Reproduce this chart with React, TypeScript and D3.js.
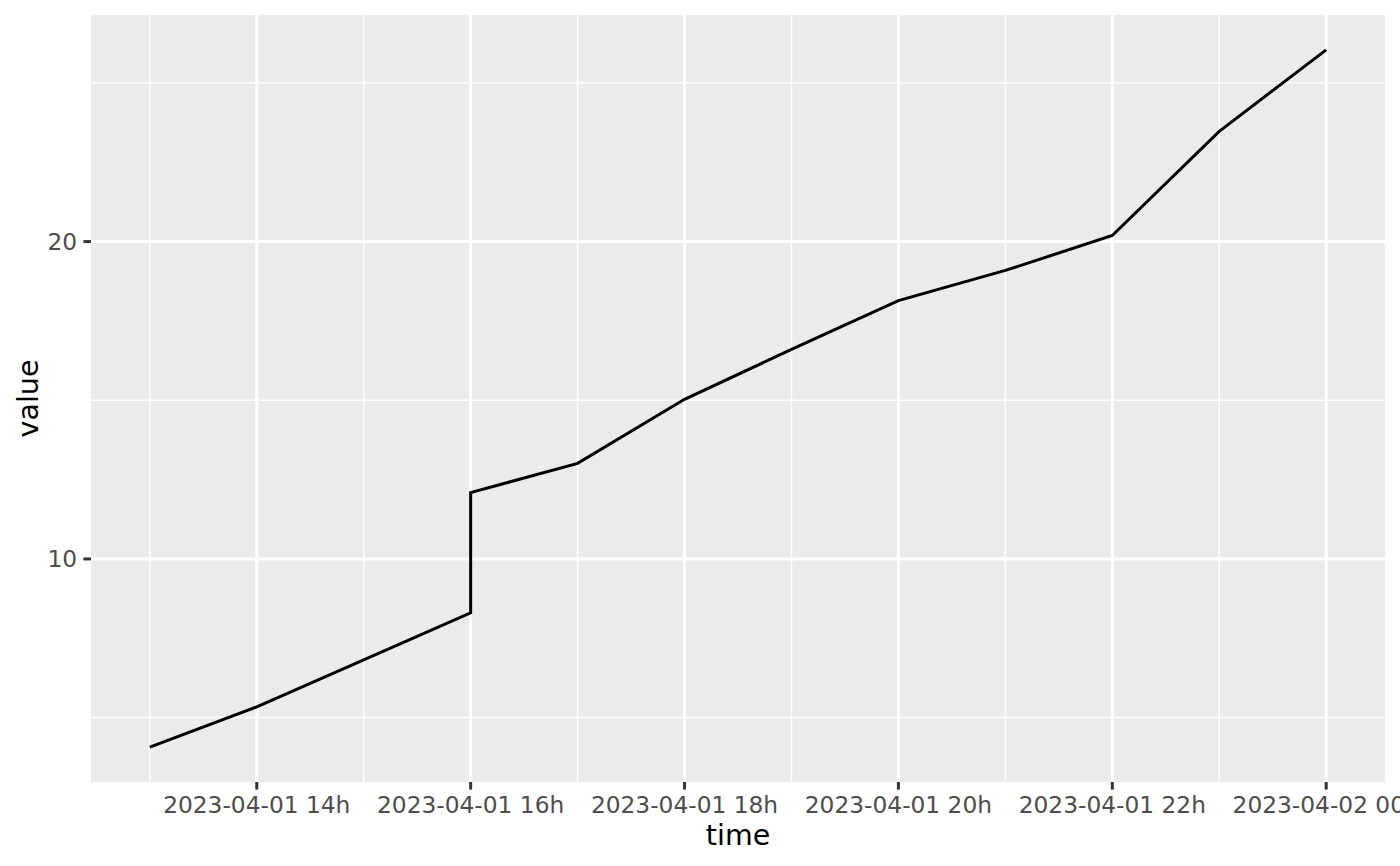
import { useEffect, useRef } from "react"
import * as d3 from "d3"

// hours after 2023-04-01 00:00 UTC; 16h appears twice (step in the series)
const HOURS = [13, 14, 15, 16, 16, 17, 18, 19, 20, 21, 22, 23, 24]
const VALUES = [4.07, 5.34, 6.82, 8.3, 12.09, 13.01, 15.03, 16.6, 18.14, 19.09, 20.19, 23.47, 26.04]
const MAJOR_X_HOURS = [14, 16, 18, 20, 22, 24]
const MINOR_X_HOURS = [13, 15, 17, 19, 21, 23]
const MAJOR_Y = [10, 20]
const MINOR_Y = [5, 15, 25]

const W = 1400
const H = 866
const M = { top: 15, right: 15, bottom: 84, left: 91 }

const FONT = "'DejaVu Sans', sans-serif"
const toDate = (h: number) => new Date(Date.UTC(2023, 3, 1, h))

export default function App() {
  const ref = useRef<SVGSVGElement>(null)

  useEffect(() => {
    if (!ref.current) return
    const svg = d3.select(ref.current)
    svg.selectAll("*").remove()

    const data = HOURS.map((h, i) => ({ t: toDate(h), v: VALUES[i] }))
    const pw = W - M.left - M.right
    const ph = H - M.top - M.bottom

    const tExt = d3.extent(data, (d) => +d.t) as [number, number]
    const tPad = (tExt[1] - tExt[0]) * 0.05
    const x = d3
      .scaleUtc()
      .domain([new Date(tExt[0] - tPad), new Date(tExt[1] + tPad)])
      .range([M.left, M.left + pw])

    const vExt = d3.extent(data, (d) => d.v) as [number, number]
    const vPad = (vExt[1] - vExt[0]) * 0.05
    const y = d3
      .scaleLinear()
      .domain([vExt[0] - vPad, vExt[1] + vPad])
      .range([M.top + ph, M.top])

    svg.append("rect")
      .attr("x", M.left).attr("y", M.top)
      .attr("width", pw).attr("height", ph)
      .attr("fill", "#EBEBEB")

    const grid = svg.append("g").attr("stroke", "#fff").attr("fill", "none")
    grid.selectAll(".ymin").data(MINOR_Y).join("line")
      .attr("x1", M.left).attr("x2", M.left + pw)
      .attr("y1", (d) => y(d)).attr("y2", (d) => y(d))
      .attr("stroke-width", 1.5)
    grid.selectAll(".xmin").data(MINOR_X_HOURS).join("line")
      .attr("y1", M.top).attr("y2", M.top + ph)
      .attr("x1", (d) => x(toDate(d))).attr("x2", (d) => x(toDate(d)))
      .attr("stroke-width", 1.5)
    grid.selectAll(".ymaj").data(MAJOR_Y).join("line")
      .attr("x1", M.left).attr("x2", M.left + pw)
      .attr("y1", (d) => y(d)).attr("y2", (d) => y(d))
      .attr("stroke-width", 3)
    grid.selectAll(".xmaj").data(MAJOR_X_HOURS).join("line")
      .attr("y1", M.top).attr("y2", M.top + ph)
      .attr("x1", (d) => x(toDate(d))).attr("x2", (d) => x(toDate(d)))
      .attr("stroke-width", 3)

    const line = d3.line<{ t: Date; v: number }>().x((d) => x(d.t)).y((d) => y(d.v))
    svg.append("path")
      .datum(data)
      .attr("d", line)
      .attr("fill", "none")
      .attr("stroke", "#000")
      .attr("stroke-width", 3)

    // axes
    const fmt = d3.utcFormat("%Y-%m-%d %Hh")
    const xa = svg.append("g")
    xa.selectAll("line").data(MAJOR_X_HOURS).join("line")
      .attr("x1", (d) => x(toDate(d))).attr("x2", (d) => x(toDate(d)))
      .attr("y1", M.top + ph).attr("y2", M.top + ph + 7.6)
      .attr("stroke", "#333").attr("stroke-width", 3)
    xa.selectAll("text").data(MAJOR_X_HOURS).join("text")
      .attr("x", (d) => x(toDate(d)))
      .attr("y", 813)
      .attr("text-anchor", "middle")
      .attr("font-family", FONT).attr("font-size", 23.3)
      .attr("fill", "#4D4D4D")
      .text((d) => fmt(toDate(d)))

    const ya = svg.append("g")
    ya.selectAll("line").data(MAJOR_Y).join("line")
      .attr("x1", M.left - 7.6).attr("x2", M.left)
      .attr("y1", (d) => y(d)).attr("y2", (d) => y(d))
      .attr("stroke", "#333").attr("stroke-width", 3)
    ya.selectAll("text").data(MAJOR_Y).join("text")
      .attr("x", M.left - 13.8)
      .attr("y", (d) => y(d))
      .attr("dy", "0.36em")
      .attr("text-anchor", "end")
      .attr("font-family", FONT).attr("font-size", 23.3)
      .attr("fill", "#4D4D4D")
      .text((d) => String(d))

    svg.append("text")
      .attr("x", M.left + pw / 2).attr("y", 845)
      .attr("text-anchor", "middle")
      .attr("font-family", FONT).attr("font-size", 28.5)
      .attr("fill", "#000")
      .text("time")

    svg.append("text")
      .attr("transform", `translate(38,${M.top + ph / 2}) rotate(-90)`)
      .attr("text-anchor", "middle")
      .attr("font-family", FONT).attr("font-size", 28.5)
      .attr("fill", "#000")
      .text("value")
  }, [])

  return (
    <svg
      ref={ref}
      width={W}
      height={H}
      style={{ position: "absolute", left: 0, top: 0, background: "#fff", display: "block" }}
    />
  )
}
